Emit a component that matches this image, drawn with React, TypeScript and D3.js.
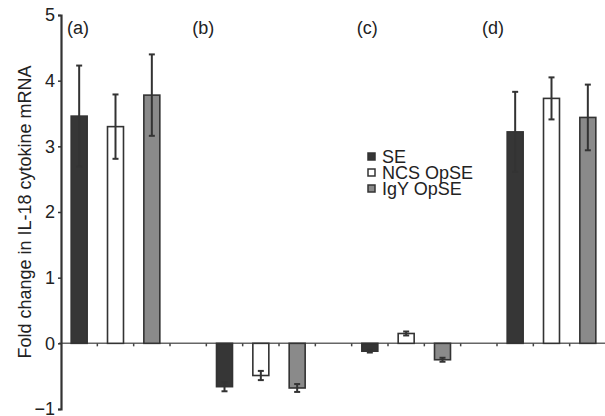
import React, { useEffect, useRef } from 'react';
import * as d3 from 'd3';

const groups = ['(a)', '(b)', '(c)', '(d)'];
const seriesNames = ['SE', 'NCS OpSE', 'IgY OpSE'];
const seValues = [3.46, -0.66, -0.12, 3.22];
const seErrors = [0.77, 0.07, 0.02, 0.61];
const ncsValues = [3.3, -0.49, 0.15, 3.73];
const ncsErrors = [0.49, 0.07, 0.03, 0.32];
const igyValues = [3.78, -0.68, -0.25, 3.44];
const igyErrors = [0.62, 0.06, 0.03, 0.5];
const yTicks = [-1, 0, 1, 2, 3, 4, 5];

const fills = ['#363636', '#ffffff', '#8a8a8a'];

export default function App() {
  const svgRef = useRef<SVGSVGElement>(null);

  useEffect(() => {
    if (!svgRef.current) return;
    document.body.style.margin = '0';
    const svg = d3.select(svgRef.current);
    svg.selectAll('*').remove();

    const left = 61, right = 606, top = 15, bottom = 409;
    const nSlots = groups.length * 4 - 1;
    const font = 'Liberation Sans, Arial, sans-serif';
    const fs = 18;

    const y = d3.scaleLinear().domain([-1, 5]).range([bottom, top]);
    const x = d3.scaleBand<number>()
      .domain(d3.range(nSlots))
      .range([left, right])
      .paddingInner(0.56)
      .paddingOuter(0.28);
    const edge = d3.scaleLinear().domain([0, nSlots]).range([left, right]);

    const allValues = [seValues, ncsValues, igyValues];
    const allErrors = [seErrors, ncsErrors, igyErrors];
    const bars = groups.flatMap((g, gi) =>
      seriesNames.map((s, si) => ({
        slot: gi * 4 + si,
        series: si,
        value: allValues[si][gi],
        err: allErrors[si][gi],
      }))
    );

    // zero line + small slot ticks
    svg.append('line')
      .attr('x1', left - 2).attr('x2', right)
      .attr('y1', y(0)).attr('y2', y(0))
      .attr('stroke', '#666').attr('stroke-width', 1.5);
    svg.selectAll('.slotTick')
      .data(d3.range(1, nSlots))
      .enter().append('line')
      .attr('x1', d => edge(d)).attr('x2', d => edge(d))
      .attr('y1', y(0)).attr('y2', y(0) + 3)
      .attr('stroke', '#444').attr('stroke-width', 1.5);

    // bars
    svg.selectAll('.bar')
      .data(bars)
      .enter().append('rect')
      .attr('x', d => x(d.slot)!)
      .attr('width', x.bandwidth())
      .attr('y', d => y(Math.max(0, d.value)))
      .attr('height', d => Math.abs(y(d.value) - y(0)))
      .attr('fill', d => fills[d.series])
      .attr('stroke', '#333')
      .attr('stroke-width', 1.6);

    // error bars
    const eb = svg.selectAll('.err').data(bars).enter().append('g')
      .attr('stroke', '#333').attr('stroke-width', 2);
    eb.append('line')
      .attr('x1', d => x(d.slot)! + x.bandwidth() / 2)
      .attr('x2', d => x(d.slot)! + x.bandwidth() / 2)
      .attr('y1', d => y(d.value - d.err))
      .attr('y2', d => y(d.value + d.err));
    [-1, 1].forEach(sign => {
      eb.append('line')
        .attr('x1', d => x(d.slot)! + x.bandwidth() / 2 - 3)
        .attr('x2', d => x(d.slot)! + x.bandwidth() / 2 + 3)
        .attr('y1', d => y(d.value + sign * d.err))
        .attr('y2', d => y(d.value + sign * d.err));
    });

    // y axis
    const yAxis = d3.axisLeft(y).tickValues(yTicks).tickSize(3).tickPadding(3)
      .tickFormat(d => (d as number) < 0 ? `\u2212${Math.abs(d as number)}` : `${d}`);
    const ya = svg.append('g').attr('transform', `translate(${left},0)`).call(yAxis);
    ya.select('.domain').attr('stroke', '#333').attr('stroke-width', 2.2);
    ya.selectAll('.tick line').attr('stroke', '#333').attr('stroke-width', 1.5);
    ya.selectAll('.tick text')
      .attr('font-family', font).attr('font-size', fs).attr('fill', '#222');

    svg.append('text')
      .attr('transform', `translate(31,212) rotate(-90)`)
      .attr('text-anchor', 'middle')
      .attr('font-family', font).attr('font-size', fs).attr('fill', '#222')
      .text('Fold change in IL-18 cytokine mRNA');

    // panel labels
    const labelOffsets = [6, -14, 5, -15];
    svg.selectAll('.panel')
      .data(groups)
      .enter().append('text')
      .attr('x', (d, i) => edge(i * 4) + labelOffsets[i])
      .attr('y', 34)
      .attr('font-family', font).attr('font-size', fs).attr('fill', '#222')
      .text(d => d);

    // legend
    const legend = svg.append('g').attr('transform', 'translate(368,153)');
    const li = legend.selectAll('.li').data(seriesNames).enter().append('g')
      .attr('transform', (d, i) => `translate(0,${i * 16})`);
    li.append('rect')
      .attr('width', 7).attr('height', 7)
      .attr('fill', (d, i) => fills[i])
      .attr('stroke', '#333').attr('stroke-width', 1.5);
    li.append('text')
      .attr('x', 14).attr('y', 9.5)
      .attr('font-family', font).attr('font-size', fs).attr('fill', '#222')
      .text(d => d);
  }, []);

  return <svg ref={svgRef} width={605} height={416} style={{ display: 'block', background: '#fff' }} />;
}
